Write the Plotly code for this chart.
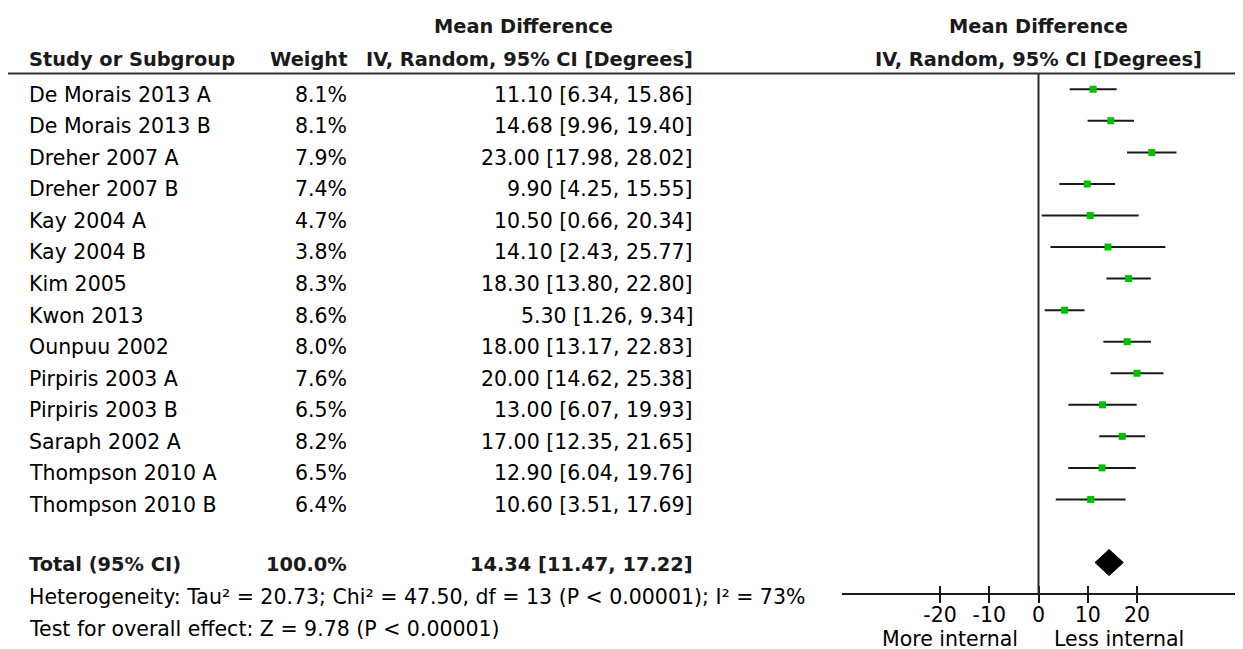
import plotly.graph_objects as go

# ---------------- data ----------------
studies = ["De Morais 2013 A", "De Morais 2013 B", "Dreher 2007 A", "Dreher 2007 B",
           "Kay 2004 A", "Kay 2004 B", "Kim 2005", "Kwon 2013", "Ounpuu 2002",
           "Pirpiris 2003 A", "Pirpiris 2003 B", "Saraph 2002 A",
           "Thompson 2010 A", "Thompson 2010 B"]
weights = [8.1, 8.1, 7.9, 7.4, 4.7, 3.8, 8.3, 8.6, 8.0, 7.6, 6.5, 8.2, 6.5, 6.4]
md = [11.10, 14.68, 23.00, 9.90, 10.50, 14.10, 18.30, 5.30, 18.00, 20.00, 13.00, 17.00, 12.90, 10.60]
ci_lo = [6.34, 9.96, 17.98, 4.25, 0.66, 2.43, 13.80, 1.26, 13.17, 14.62, 6.07, 12.35, 6.04, 3.51]
ci_hi = [15.86, 19.40, 28.02, 15.55, 20.34, 25.77, 22.80, 9.34, 22.83, 25.38, 19.93, 21.65, 19.76, 17.69]

total_weight = 100.0
total_md = 14.34
total_lo = 11.47
total_hi = 17.22

heterogeneity = "Heterogeneity: Tau\u00b2 = 20.73; Chi\u00b2 = 47.50, df = 13 (P < 0.00001); I\u00b2 = 73%"
overall = "Test for overall effect: Z = 9.78 (P < 0.00001)"

tick_vals = [-20, -10, 0, 10, 20]
tick_text = ["-20", "-10", "0", "10", "20"]
x_range = [-40, 40]

left_label = "More internal"
right_label = "Less internal"

# ---------------- layout constants ----------------
W, H = 1243, 649          # window size
OFF = 8                   # default page body margin
FW, FH = W - OFF, H - OFF # figure size so it ends at the window edge
ROW0_PX, ROW_PX = 89.3, 31.55   # window pixel of first study row, row pitch
Y_TOP = -(ROW0_PX - OFF) / ROW_PX
Y_BOT = (FH - (ROW0_PX - OFF)) / ROW_PX

def px(p):
    """window x pixel -> paper fraction"""
    return max(0.0, (p - OFF) / FW)

n = len(studies)
rows = list(range(n))
total_row = n + 1
het_row = total_row + 1
test_row = het_row + 1
axis_row = het_row
header_line_row = -0.5

TEXT_DY = 0.17
FONT = "DejaVu Sans"
REG = dict(family=FONT, size=20.5, color="#000000")
BOLD = dict(family=FONT, size=19.4, color="#1a1a1a")

X_NAME = px(27)
X_WEIGHT = px(349)
X_CI = px(695)
X_MDHEAD = px(523)
AX_DOMAIN = [px(841.5), px(1235.5)]
axis_pos = (Y_BOT - axis_row) / (Y_BOT - Y_TOP)

fig = go.Figure()

# study CIs and point estimates
fig.add_trace(go.Scatter(
    x=md, y=rows, mode="markers",
    marker=dict(symbol="square", size=7, color="#00C000", line=dict(width=0)),
    error_x=dict(type="data", symmetric=False,
                 array=[h - m for h, m in zip(ci_hi, md)],
                 arrayminus=[m - l for m, l in zip(md, ci_lo)],
                 width=0, thickness=2, color="#1a1a1a"),
    showlegend=False, hoverinfo="skip"))

# pooled diamond
DH = 13 / ROW_PX
fig.add_trace(go.Scatter(
    x=[total_lo, total_md, total_hi, total_md, total_lo],
    y=[total_row, total_row - DH, total_row, total_row + DH, total_row],
    mode="lines", fill="toself", fillcolor="#000000",
    line=dict(color="#000000", width=1), showlegend=False, hoverinfo="skip"))

# helper trace for inner ticks axis
fig.add_trace(go.Scatter(x=tick_vals, y=[axis_row] * len(tick_vals), xaxis="x2",
                         mode="markers", marker=dict(size=1, opacity=0),
                         showlegend=False, hoverinfo="skip"))

# shapes: header rule and zero line
fig.add_shape(type="line", xref="paper", yref="y", x0=px(7), x1=1,
              y0=header_line_row, y1=header_line_row,
              line=dict(color="#333333", width=2))
fig.add_shape(type="line", xref="x", yref="y", x0=0, x1=0,
              y0=header_line_row, y1=axis_row,
              line=dict(color="#2a2a2a", width=2))

ann = []
def add(text, x, y, xanchor, font, xref="paper", xshift=0):
    ann.append(dict(text=text, x=x, y=y, xref=xref, yref="y", xanchor=xanchor,
                    yanchor="middle", showarrow=False, font=font, xshift=xshift))

# headers
add("<b>Study or Subgroup</b>", X_NAME, -0.94, "left", BOLD)
add("<b>Weight</b>", X_WEIGHT, -0.94, "right", BOLD)
add("<b>Mean Difference</b>", X_MDHEAD, -1.98, "center", BOLD)
add("<b>IV, Random, 95% CI [Degrees]</b>", X_CI, -0.94, "right", BOLD)
add("<b>Mean Difference</b>", 0, -1.98, "center", BOLD, xref="x")
add("<b>IV, Random, 95% CI [Degrees]</b>", 0, -0.94, "center", BOLD, xref="x")

# study rows
for i, (s, w, m, l, h) in enumerate(zip(studies, weights, md, ci_lo, ci_hi)):
    add(s, X_NAME, i + TEXT_DY, "left", REG)
    add(f"{w:.1f}%", X_WEIGHT, i + TEXT_DY, "right", REG)
    add(f"{m:.2f} [{l:.2f}, {h:.2f}]", X_CI, i + TEXT_DY, "right", REG)

# total row
add("<b>Total (95% CI)</b>", X_NAME, total_row + 0.05, "left", BOLD)
add(f"<b>{total_weight:.1f}%</b>", X_WEIGHT, total_row + 0.05, "right", BOLD)
add(f"<b>{total_md:.2f} [{total_lo:.2f}, {total_hi:.2f}]</b>", X_CI, total_row + 0.05, "right", BOLD)

add(heterogeneity, X_NAME, het_row + 0.1, "left", REG)
add(overall, X_NAME, test_row + 0.1, "left", REG)

add(left_label, 0, 17.42, "right", REG, xref="x", xshift=-19)
add(right_label, 0, 17.42, "left", REG, xref="x", xshift=13)

common_x = dict(domain=AX_DOMAIN, range=x_range, anchor="free", position=axis_pos,
                showgrid=False, zeroline=False, tickvals=tick_vals, fixedrange=True)
fig.update_layout(
    width=FW, height=FH, margin=dict(l=0, r=0, t=0, b=0, pad=0),
    paper_bgcolor="white", plot_bgcolor="white", showlegend=False,
    xaxis=dict(**common_x, showline=True, linecolor="#1a1a1a", linewidth=2,
               ticks="outside", ticklen=8, tickwidth=2, tickcolor="#1a1a1a",
               ticktext=tick_text, tickfont=REG, ticklabelstandoff=-6),
    xaxis2=dict(**common_x, overlaying="x", showline=False, ticks="inside",
                ticklen=8, tickwidth=2, tickcolor="#1a1a1a", showticklabels=False),
    yaxis=dict(range=[Y_BOT, Y_TOP], domain=[0, 1], visible=False, fixedrange=True),
    annotations=ann,
)

fig.write_html("out.html")
